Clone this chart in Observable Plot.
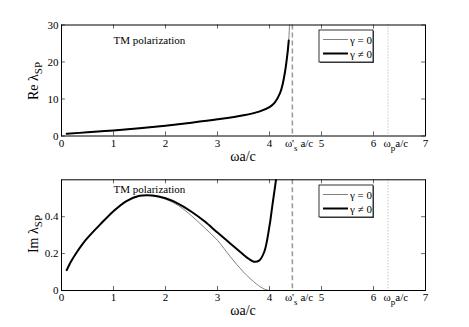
<!DOCTYPE html>
<html><head><meta charset="utf-8">
<script src="https://cdn.jsdelivr.net/npm/d3@7"></script>
<script src="https://cdn.jsdelivr.net/npm/@observablehq/plot@0.6"></script>
<style>body{margin:0;background:#fff}#c svg{display:block}#c svg, #c svg text{font-family:"Liberation Serif",serif !important}</style>
</head><body><div id="c"></div>
<script>
// ---- data ----
const xTicks = [0,1,2,3,4,5,6,7];
const reTicks = [0,10,20,30];
const imTicks = [0,0.2,0.4];
const wsPrime = 4.44;   // ω'_s a/c
const wp = 6.28;        // ω_p a/c

const reX      = [0.1,0.5,1,1.5,2,2.5,3,3.5,3.8,4,4.1,4.2,4.25,4.3,4.33,4.35,4.37];
const reBlack  = [0.6,1.0,1.5,2.1,2.8,3.6,4.5,5.6,6.6,7.8,9.0,11.5,13.8,17.5,20.5,22.8,25.8];
const reGrayX  = [0.1,0.5,1,1.5,2,2.5,3,3.5,3.8,4,4.1,4.2,4.25,4.3,4.33,4.35,4.37,4.38,4.39];
const reGray   = [0.6,1.0,1.5,2.1,2.8,3.6,4.5,5.6,6.6,7.8,9.0,11.5,13.8,17.5,20.5,22.8,25.9,28.5,32];

const imX      = [0.1,0.15,0.2,0.3,0.4,0.5,0.75,1,1.25,1.5,1.75,2,2.25,2.5,2.75,3,3.25,3.5,3.6,3.7,3.8,3.9,4.0,4.05,4.1,4.14];
const imBlack  = [0.11,0.14,0.165,0.21,0.25,0.285,0.36,0.43,0.485,0.513,0.515,0.50,0.47,0.427,0.375,0.314,0.254,0.194,0.172,0.156,0.162,0.21,0.35,0.45,0.55,0.63];
const imGrayX  = [0.1,0.15,0.2,0.3,0.4,0.5,0.75,1,1.25,1.5,1.75,2,2.25,2.5,2.75,3,3.25,3.5,3.75,3.9,4.0];
const imGray   = [0.11,0.14,0.165,0.21,0.25,0.285,0.36,0.43,0.485,0.513,0.513,0.495,0.46,0.405,0.34,0.272,0.182,0.10,0.035,0.008,0.0];

const legendLabels = ["\u03b3 = 0", "\u03b3 \u2260 0"];
const titleText = "TM polarization";

// ---- helpers ----
const font = "Liberation Serif";
function zip(xs, ys){ return xs.map((x,i)=>({x, y: ys[i]})); }
const fmt = d => String(d);

function panel(opts){
  const {height, mt, mb, yDomain, yTicks, black, gray, tickLenY, titleY} = opts;
  const tickLenX = 0.075;
  const [y0,y1] = yDomain;
  return Plot.plot({
    width: 469, height, marginTop: mt, marginBottom: mb, marginLeft: 61, marginRight: 44,
    x: {domain: [0,7]}, y: {domain: yDomain},
    style: {fontFamily: font, fontSize: "11px", background: "white", color: "black"},
    marks: [
      Plot.axisX({ticks: xTicks, tickFormat: fmt, tickSize: 0, tickPadding: 3, label: null, fontSize: 11}),
      Plot.axisY({ticks: yTicks, tickFormat: fmt, tickSize: 0, tickPadding: 3, label: null, fontSize: 11}),
      Plot.ruleX(xTicks, {x: d=>d, y1: y0, y2: y0 + tickLenY, stroke: "black", strokeWidth: 0.6}),
      Plot.ruleX(xTicks, {x: d=>d, y1: y1, y2: y1 - tickLenY, stroke: "black", strokeWidth: 0.6}),
      Plot.ruleY(yTicks, {y: d=>d, x1: 0, x2: tickLenX, stroke: "black", strokeWidth: 0.6}),
      Plot.ruleY(yTicks, {y: d=>d, x1: 7, x2: 7 - tickLenX, stroke: "black", strokeWidth: 0.6}),
      Plot.ruleX([wsPrime], {stroke: "#9a9a9a", strokeWidth: 1.5, strokeDasharray: "5,3"}),
      Plot.ruleX([wp], {stroke: "#aaaaaa", strokeWidth: 1, strokeDasharray: "1,2"}),
      Plot.line(gray, {x: "x", y: "y", stroke: "#808080", strokeWidth: 1, curve: "catmull-rom", clip: true}),
      Plot.line(black, {x: "x", y: "y", stroke: "black", strokeWidth: 2, curve: "catmull-rom", clip: true}),
      Plot.text([titleText], {x: 1.0, y: titleY, text: d=>d, textAnchor: "start", fontSize: 11, fill: "black"}),
      Plot.frame({stroke: "black", strokeWidth: 1})
    ]
  });
}

function decorate(svg, yMain, ySub, yCenter, legendTop){
  const sel = d3.select(svg);
  const sx = svg.scale("x");
  const ys = svg.scale("y");
  const bottom = ys.range[0];
  const base = bottom + 11;
  const t1 = sel.append("text").attr("x", sx.apply(wsPrime) - 7).attr("y", base)
    .attr("text-anchor", "start").attr("font-family", font).attr("font-size", 11);
  t1.append("tspan").text("\u03c9'");
  t1.append("tspan").attr("dy", 4).attr("font-size", 9).text("s");
  t1.append("tspan").attr("dy", -4).text(" a/c");
  const t2 = sel.append("text").attr("x", sx.apply(wp) - 4).attr("y", base)
    .attr("text-anchor", "start").attr("font-family", font).attr("font-size", 11);
  t2.append("tspan").text("\u03c9");
  t2.append("tspan").attr("dy", 4).attr("font-size", 9).text("p");
  t2.append("tspan").attr("dy", -4).text("a/c");
  sel.append("text").attr("x", 243).attr("y", bottom + 25).attr("text-anchor", "middle")
    .attr("font-family", font).attr("font-size", 14).text("\u03c9a/c");
  const yl = sel.append("text").attr("transform", `translate(38,${yCenter}) rotate(-90)`)
    .attr("text-anchor", "middle").attr("font-family", font).attr("font-size", 14);
  yl.append("tspan").text(yMain + " \u03bb");
  yl.append("tspan").attr("dy", 4).attr("font-size", 11).text(ySub);
  const lx = 319, lw = 54, lh = 32;
  sel.append("rect").attr("x", lx+1).attr("y", legendTop+1).attr("width", lw).attr("height", lh)
    .attr("fill", "#555");
  sel.append("rect").attr("x", lx).attr("y", legendTop).attr("width", lw).attr("height", lh)
    .attr("fill", "white").attr("stroke", "black").attr("stroke-width", 0.8);
  const cols = ["#808080", "black"], wds = [1, 2];
  legendLabels.forEach((lab, i) => {
    const yy = legendTop + 9.5 + i*14;
    sel.append("line").attr("x1", lx+4).attr("x2", lx+29).attr("y1", yy).attr("y2", yy)
      .attr("stroke", cols[i]).attr("stroke-width", wds[i]);
    sel.append("text").attr("x", lx+31).attr("y", yy+4).attr("text-anchor", "start")
      .attr("font-family", font).attr("font-size", 11).text(lab);
  });
}

const topChart = panel({height: 163, mt: 24.5, mb: 27.5, yDomain: [0,30], yTicks: reTicks,
  black: zip(reX, reBlack), gray: zip(reGrayX, reGray), tickLenY: 1.1, titleY: 25.8});
const botChart = panel({height: 164, mt: 16.3, mb: 37, yDomain: [0,0.6], yTicks: imTicks,
  black: zip(imX, imBlack), gray: zip(imGrayX, imGray), tickLenY: 0.022, titleY: 0.55});

document.getElementById("c").append(topChart, botChart);
decorate(topChart, "Re", "SP", 81, 30);
decorate(botChart, "Im", "SP", 71, 22);
</script></body></html>
